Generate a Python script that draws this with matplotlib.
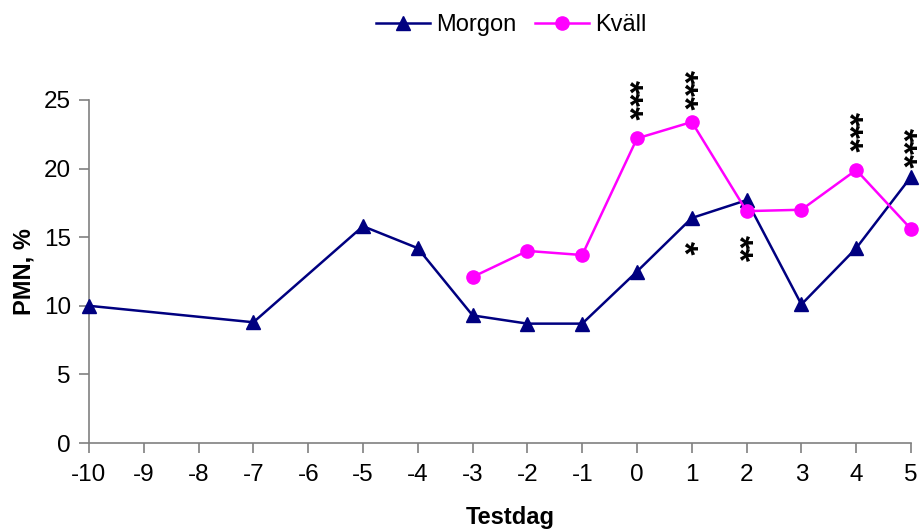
import matplotlib
matplotlib.use("Agg")
import matplotlib.pyplot as plt
from matplotlib.transforms import offset_copy

plt.rcParams['font.family'] = ['Liberation Sans', 'DejaVu Sans']

days = [-10, -9, -8, -7, -6, -5, -4, -3, -2, -1, 0, 1, 2, 3, 4, 5]
morgon_x = [-10, -7, -5, -4, -3, -2, -1, 0, 1, 2, 3, 4, 5]
morgon_y = [10.0, 8.8, 15.8, 14.2, 9.3, 8.7, 8.7, 12.5, 16.4, 17.7, 10.1, 14.2, 19.4]
kvall_x = [-3, -2, -1, 0, 1, 2, 3, 4, 5]
kvall_y = [12.1, 14.0, 13.7, 22.2, 23.4, 16.9, 17.0, 19.9, 15.6]
yticks = [0, 5, 10, 15, 20, 25]

# significance markers
sig_x = [0, 1, 4, 5, 1, 2]
sig_y = [23.5, 24.2, 21.2, 20.0, 14.2, 14.2]
sig_txt = ['***', '***', '***', '***', '*', '**']
sig_va = ['bottom', 'bottom', 'bottom', 'bottom', 'center', 'center']

fig = plt.figure(figsize=(9.24, 5.32), dpi=100)
ax = fig.add_axes([89/924, 89/532, (911-89)/924, (443-100)/532])

ax.plot(morgon_x, morgon_y, color='#000080', marker='^', markersize=9.5,
        linewidth=1.8, label='Morgon', clip_on=False, zorder=3)
ax.plot(kvall_x, kvall_y, color='#FF00FF', marker='o', markersize=9.5,
        linewidth=1.8, label='Kväll', clip_on=False, zorder=3)

star_tr = offset_copy(ax.transData, fig=fig, x=-9, y=0, units='dots')
for x, y, t, va in zip(sig_x, sig_y, sig_txt, sig_va):
    ax.text(x, y, t, rotation=270, ha='center', va=va, fontsize=25,
            fontweight='bold', color='black', clip_on=False, transform=star_tr)

ax.set_xlim(-10, 5)
ax.set_ylim(0, 25)
ax.set_xticks(days)
ax.set_xticklabels([str(d) for d in days])
ax.set_yticks(yticks)

for s in ['top', 'right']:
    ax.spines[s].set_visible(False)
for s in ['left', 'bottom']:
    ax.spines[s].set_color('#808080')
    ax.spines[s].set_linewidth(1.2)
ax.tick_params(axis='both', colors='#808080', labelcolor='black',
               labelsize=17.5, length=7, width=1.2, direction='out')
ax.tick_params(axis='x', pad=8)
ax.tick_params(axis='y', pad=6)

ax.set_xlabel('Testdag', fontsize=17, fontweight='bold')
ax.set_ylabel('PMN, %', fontsize=17, fontweight='bold', labelpad=6)
ax.xaxis.set_label_coords(0.512, -0.185)

fig.legend(loc='center', bbox_to_anchor=(0.553, 0.953), ncol=2, frameon=False,
           fontsize=17, handlelength=2.3, columnspacing=0.8, handletextpad=0.25)

fig.savefig('out.png', dpi=100)
